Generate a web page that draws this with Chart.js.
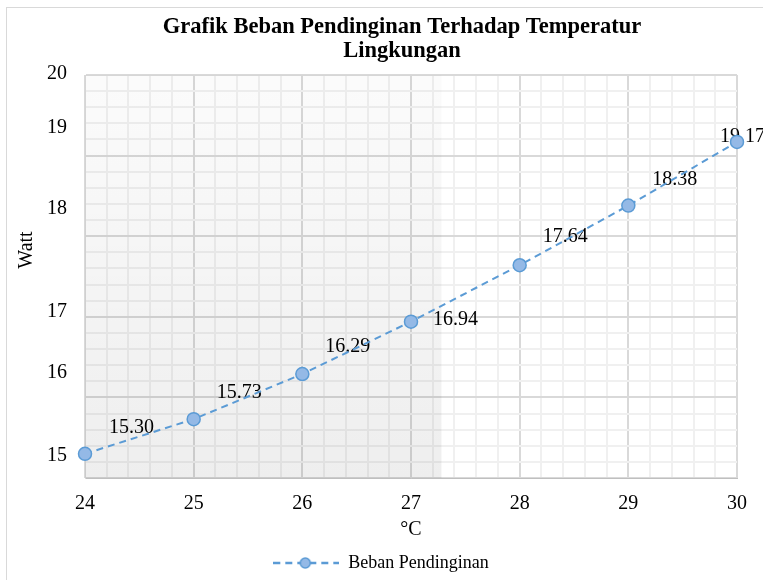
<!DOCTYPE html>
<html>
<head>
<meta charset="utf-8">
<script src="https://cdn.jsdelivr.net/npm/chart.js@4.4.1/dist/chart.umd.min.js"></script>
<style>
  html, body { margin: 0; padding: 0; background: #fff; }
</style>
</head>
<body>
<canvas id="mainChart" width="763" height="580"></canvas>
<script>
const temps = [24, 25, 26, 27, 28, 29, 30];
const beban = [15.30, 15.73, 16.29, 16.94, 17.64, 18.38, 19.17];
const xTickLabels = ['24', '25', '26', '27', '28', '29', '30'];
// the y labels in the original don't sit on the gridlines
const yTickLabels = ['15', '16', '17', '18', '19', '20'];
const yTickPos = [15.28, 16.30, 17.06, 18.34, 19.34, 20.02];
const seriesName = 'Beban Pendinginan';
const chartTitle = ['Grafik Beban Pendinginan Terhadap Temperatur', 'Lingkungan'];
const xTitle = '°C';
const yTitle = 'Watt';

const blue = '#5b9bd5';
const markerFill = '#94b9e6';
const serif = "'Liberation Serif', 'Times New Roman', serif";
// value label offsets from each marker (left edge, middle)
const labelOffsets = [[24, -26], [23, -26], [23, -27], [22, -2], [23, -28], [24, -26], [-17, -5]];
const shadeEnd = 27.28;

function isStep(v, step) {
  return Math.abs(v / step - Math.round(v / step)) < 1e-6;
}

function legendIcon() {
  var c = document.createElement('canvas');
  c.width = 66; c.height = 14;
  var g = c.getContext('2d');
  g.strokeStyle = blue; g.lineWidth = 2.5; g.setLineDash([7, 5]);
  g.beginPath(); g.moveTo(0, 7); g.lineTo(66, 7); g.stroke();
  g.setLineDash([]);
  g.beginPath(); g.arc(32, 7, 5, 0, Math.PI * 2);
  g.fillStyle = markerFill; g.fill();
  g.lineWidth = 1.5; g.stroke();
  return c;
}

const decor = {
  id: 'decor',
  beforeDraw: function(chart) {
    var ctx = chart.ctx;
    ctx.save();
    ctx.fillStyle = '#fff';
    ctx.fillRect(0, 0, chart.width, chart.height);
    ctx.strokeStyle = '#d9d9d9';
    ctx.lineWidth = 1;
    ctx.strokeRect(6.5, 7.5, chart.width + 20, chart.height + 20);
    ctx.restore();
  },
  beforeDatasetsDraw: function(chart) {
    var ctx = chart.ctx, a = chart.chartArea;
    var right = chart.scales.x.getPixelForValue(shadeEnd);
    var grad = ctx.createLinearGradient(0, a.top, 0, a.bottom);
    grad.addColorStop(0, 'rgba(0,0,0,0.015)');
    grad.addColorStop(1, 'rgba(0,0,0,0.065)');
    ctx.save();
    ctx.fillStyle = grad;
    ctx.fillRect(a.left, a.top, right - a.left, a.bottom - a.top);

    // value labels
    var pts = chart.getDatasetMeta(0).data;
    ctx.font = '20px ' + serif;
    ctx.fillStyle = '#000';
    ctx.textAlign = 'left';
    ctx.textBaseline = 'middle';
    pts.forEach(function(p, i) {
      var o = labelOffsets[i];
      ctx.fillText(beban[i].toFixed(2), p.x + o[0], p.y + o[1]);
    });
    ctx.restore();
  },
  afterDraw: function(chart) {
    var ctx = chart.ctx;
    ctx.save();
    ctx.fillStyle = '#000';
    ctx.textAlign = 'center';
    ctx.textBaseline = 'middle';
    ctx.font = 'bold 22.5px ' + serif;
    ctx.fillText(chartTitle[0], 402, 27);
    ctx.fillText(chartTitle[1], 402, 51);
    ctx.font = '20px ' + serif;
    ctx.translate(27, 250);
    ctx.rotate(-Math.PI / 2);
    ctx.fillText(yTitle, 0, 0);
    ctx.restore();
  }
};

var ctx = document.getElementById('mainChart').getContext('2d');
var chart = new Chart(ctx, {
  type: 'line',
  data: {
    datasets: [{
      label: seriesName,
      data: temps.map(function(t, i) { return { x: t, y: beban[i] }; }),
      borderColor: blue,
      borderWidth: 2,
      borderDash: [7, 5],
      tension: 0,
      pointRadius: 6.5,
      pointBorderWidth: 1.5,
      pointBackgroundColor: markerFill,
      pointBorderColor: blue,
      clip: false
    }]
  },
  options: {
    responsive: false,
    animation: false,
    devicePixelRatio: 1,
    layout: { padding: { top: 75, left: 3, right: 4, bottom: -2 } },
    plugins: {
      title: { display: false },
      tooltip: { enabled: false },
      legend: {
        position: 'bottom',
        labels: {
          usePointStyle: true, pointStyle: legendIcon(), pointStyleWidth: 66,
          padding: 12, color: '#000', font: { family: serif, size: 18 }
        }
      }
    },
    scales: {
      x: {
        type: 'linear', min: 24, max: 30,
        afterFit: function(s) { s.height = 64; },
        ticks: {
          stepSize: 0.2, autoSkip: false, maxRotation: 0, padding: 14,
          color: '#000', font: { family: serif, size: 20 },
          callback: function(v) {
            if (!isStep(v, 1)) return '';
            var i = temps.indexOf(Math.round(v));
            return i >= 0 ? xTickLabels[i] : '';
          }
        },
        grid: {
          drawTicks: false, lineWidth: 2,
          color: function(c) { return isStep(c.tick.value, 1) ? '#d9d9d9' : '#f0f0f0'; }
        },
        border: { color: '#bfbfbf', width: 1 },
        title: { display: true, text: xTitle, color: '#000', font: { family: serif, size: 20 }, padding: 0 }
      },
      y: {
        type: 'linear', min: 15, max: 20, position: 'left',
        afterFit: function(s) { s.width = 82; },
        afterBuildTicks: function(axis) {
          axis.ticks = axis.ticks.concat(yTickPos.map(function(v) { return { value: v }; }));
        },
        ticks: {
          stepSize: 0.2, autoSkip: false, padding: 18,
          color: '#000', font: { family: serif, size: 20 },
          callback: function(v) {
            var i = yTickPos.indexOf(v);
            return i >= 0 ? yTickLabels[i] : '';
          }
        },
        grid: {
          drawTicks: false, lineWidth: 2,
          color: function(c) {
            var v = c.tick.value;
            if (!isStep(v, 0.2)) return 'rgba(0,0,0,0)';
            return isStep(v, 1) ? '#d9d9d9' : '#f0f0f0';
          }
        },
        border: { color: '#d9d9d9', width: 1 }
      },
      yRight: {
        type: 'linear', position: 'right', display: true,
        afterFit: function(s) { s.width = 22; },
        ticks: { display: false },
        grid: { display: false },
        border: { display: false }
      }
    }
  },
  plugins: [decor]
});
</script>
</body>
</html>
